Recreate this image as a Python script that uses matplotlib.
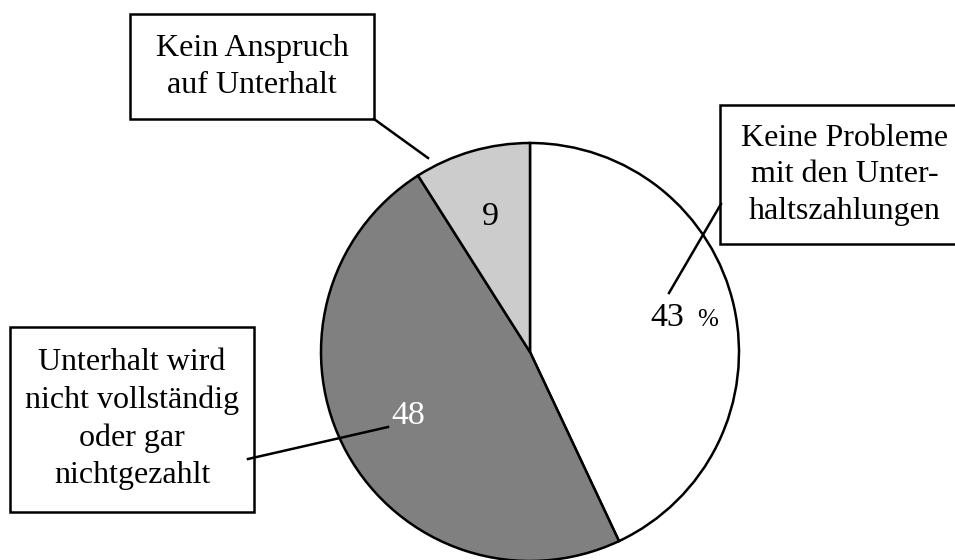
import matplotlib
matplotlib.use("Agg")
import matplotlib.pyplot as plt
from matplotlib.patches import Rectangle

plt.rcParams['font.family'] = ['Liberation Serif', 'DejaVu Serif']

categories = ["Keine Probleme\nmit den Unter-\nhaltszahlungen",
              "Unterhalt wird\nnicht vollständig\noder gar\nnichtgezahlt",
              "Kein Anspruch\nauf Unterhalt"]
values = [43, 48, 9]
value_labels = ["43", "48", "9"]
colors = ["#ffffff", "#808080", "#cccccc"]
label_colors = ["black", "white", "black"]

W, H = 955, 560
fig = plt.figure(figsize=(W / 100, H / 100), dpi=100)
ax = fig.add_axes([0, 0, 1, 1])

def Y(y):
    return H - y

ax.pie(values, colors=colors, startangle=90, counterclock=False,
       center=(530, Y(352)), radius=209, frame=True,
       wedgeprops=dict(edgecolor="black", linewidth=1.8))
ax.set_xlim(0, W)
ax.set_ylim(0, H)
ax.set_aspect('equal')
ax.axis('off')

fs = 23
nfs = 24.5
# value labels inside slices
ax.text(667, Y(318), value_labels[0], fontsize=nfs, ha='center', va='center', color=label_colors[0])
ax.text(708, Y(320), "%", fontsize=18, ha='center', va='center', color='black')
ax.text(408, Y(416), value_labels[1], fontsize=nfs, ha='center', va='center', color=label_colors[1])
ax.text(490, Y(217), value_labels[2], fontsize=nfs, ha='center', va='center', color=label_colors[2])

# boxes: (x0, y0, x1, y1) in pixel coords
boxes = [(720, 105, 990, 244), (10, 327, 254, 512), (130, 14, 374, 119)]
text_centers = [(845, 175), (132, 419), (252, 67)]
leaders = [((721, 204), (669, 293)), ((248, 459), (388, 427)), ((374, 119), (428, 158))]

for (x0, y0, x1, y1), (tx, ty), lab, ((lx0, ly0), (lx1, ly1)) in zip(boxes, text_centers, categories, leaders):
    ax.add_patch(Rectangle((x0, Y(y1)), x1 - x0, y1 - y0, facecolor='white',
                           edgecolor='black', linewidth=1.8, zorder=3, clip_on=False))
    ax.text(tx, Y(ty), lab, fontsize=fs, ha='center', va='center', linespacing=1.36,
            zorder=4, multialignment='center')
    ax.plot([lx0, lx1], [Y(ly0), Y(ly1)], color='black', linewidth=1.8, zorder=5)

fig.savefig("out.png", dpi=100, facecolor='white')
